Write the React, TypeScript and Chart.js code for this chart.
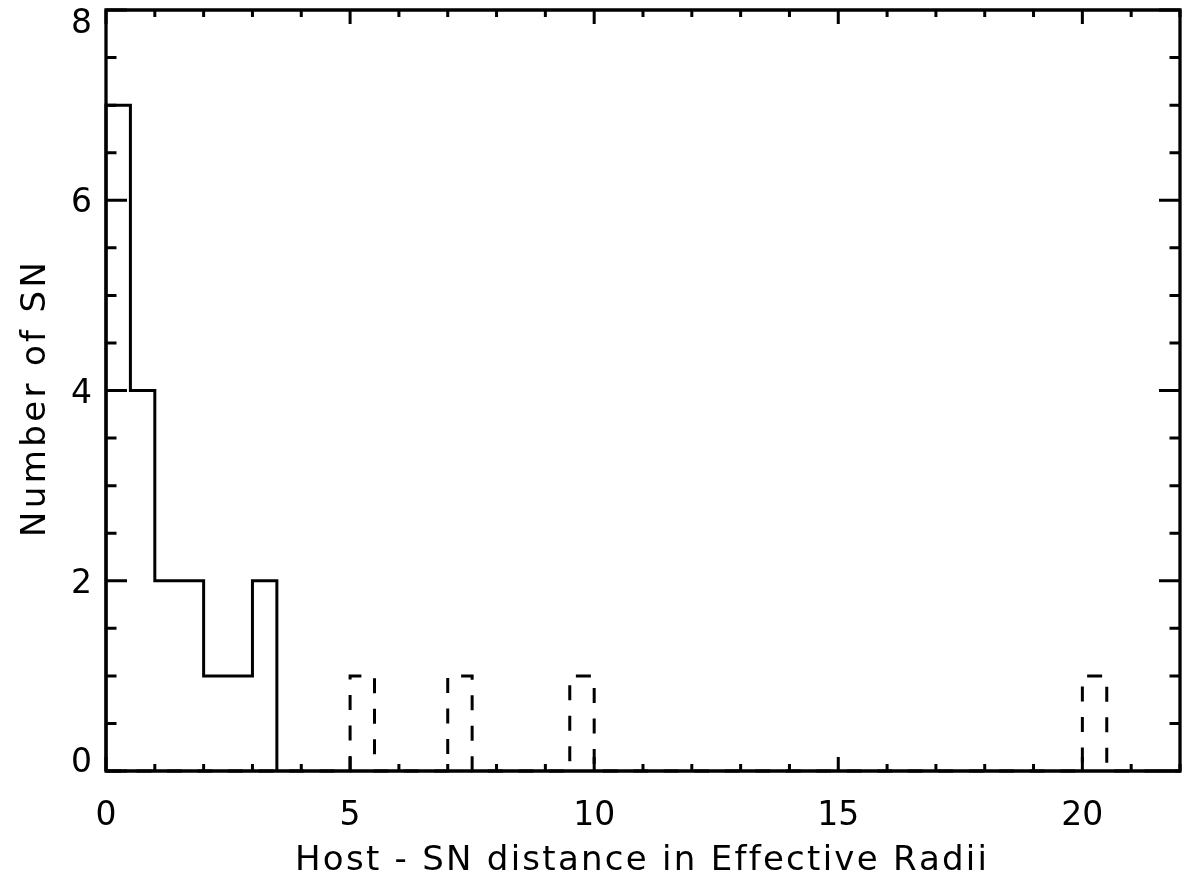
import React, { useEffect, useRef } from "react";
import { Chart, registerables } from "chart.js";

Chart.register(...registerables);

// Solid histogram (bin width 0.5)
const solidBinLeft = [0, 0.5, 1, 1.5, 2, 2.5, 3];
const solidCounts = [7, 4, 2, 2, 1, 1, 2];
// Dashed histogram (nonzero bins only, width 0.5; zero elsewhere)
const dashedBinLeft = [5, 7, 9.5, 20];
const dashedCounts = [1, 1, 1, 1];
const binWidth = 0.5;

const xTickLabels = [0, 5, 10, 15, 20];
const yTickLabels = [0, 2, 4, 6, 8];
const xTitle = "Host - SN distance in Effective Radii";
const yTitle = "Number of SN";

const X_MIN = 0;
const X_MAX = 22;
const Y_MIN = 0;
const Y_MAX = 8;

const FONT = "DejaVu Sans";

function solidPoints() {
  const pts: { x: number; y: number }[] = [];
  pts.push({ x: solidBinLeft[0], y: 0 });
  solidBinLeft.forEach((l, i) => {
    pts.push({ x: l, y: solidCounts[i] });
    pts.push({ x: l + binWidth, y: solidCounts[i] });
  });
  pts.push({ x: solidBinLeft[solidBinLeft.length - 1] + binWidth, y: 0 });
  return pts;
}

function dashedPoints() {
  const pts: { x: number; y: number }[] = [];
  pts.push({ x: X_MIN, y: 0 });
  dashedBinLeft.forEach((l, i) => {
    pts.push({ x: l, y: 0 });
    pts.push({ x: l, y: dashedCounts[i] });
    pts.push({ x: l + binWidth, y: dashedCounts[i] });
    pts.push({ x: l + binWidth, y: 0 });
  });
  pts.push({ x: X_MAX, y: 0 });
  return pts;
}

// draw text char by char with spacing so that it spans targetWidth, centred at cx
function drawSpaced(ctx: CanvasRenderingContext2D, text: string, cx: number, baseline: number, targetWidth: number) {
  const widths = Array.from(text).map((c) => ctx.measureText(c).width);
  const raw = widths.reduce((a, b) => a + b, 0);
  const n = widths.length;
  const sp = n > 1 ? (targetWidth - raw) / (n - 1) : 0;
  let x = cx - targetWidth / 2;
  ctx.textAlign = "left";
  ctx.textBaseline = "alphabetic";
  Array.from(text).forEach((c, i) => {
    ctx.fillText(c, x, baseline);
    x += widths[i] + sp;
  });
}

const framePlugin = {
  id: "idlFrame",
  afterDatasetsDraw(chart: any) {
    const { ctx, chartArea: a, scales } = chart;
    const xs = scales.x;
    const ys = scales.y;
    ctx.save();
    ctx.strokeStyle = "#000";
    ctx.fillStyle = "#000";
    ctx.lineWidth = 3.3;
    ctx.lineCap = "square";
    ctx.setLineDash([]);
    ctx.beginPath();
    ctx.rect(a.left, a.top, a.right - a.left, a.bottom - a.top);
    ctx.stroke();
    ctx.lineCap = "butt";
    ctx.lineWidth = 3;
    const xMajor = 14;
    const yMajor = 21;
    ctx.beginPath();
    for (let v = X_MIN; v <= X_MAX; v += 1) {
      const px = xs.getPixelForValue(v);
      const len = v % 5 === 0 ? xMajor : xMajor / 2;
      ctx.moveTo(px, a.bottom);
      ctx.lineTo(px, a.bottom - len);
      ctx.moveTo(px, a.top);
      ctx.lineTo(px, a.top + len);
    }
    for (let v = Y_MIN; v <= Y_MAX; v += 0.5) {
      const py = ys.getPixelForValue(v);
      const len = v % 2 === 0 ? yMajor : yMajor / 2;
      ctx.moveTo(a.left, py);
      ctx.lineTo(a.left + len, py);
      ctx.moveTo(a.right, py);
      ctx.lineTo(a.right - len, py);
    }
    ctx.stroke();

    // tick labels
    const digitH = 24;
    ctx.font = `33px "${FONT}"`;
    ctx.textAlign = "center";
    ctx.textBaseline = "alphabetic";
    xTickLabels.forEach((v) => {
      ctx.fillText(String(v), xs.getPixelForValue(v), a.bottom + 54);
    });
    ctx.textAlign = "right";
    yTickLabels.forEach((v) => {
      const py = ys.getPixelForValue(v);
      let base = py + digitH / 2;
      base = Math.max(base, a.top - 1 + digitH);
      base = Math.min(base, a.bottom + 1);
      ctx.fillText(String(v), a.left - 14, base);
    });

    // axis titles
    ctx.font = `34px "${FONT}"`;
    const cx = (a.left + a.right) / 2;
    drawSpaced(ctx, xTitle, cx - 2, a.bottom + 99, 692);
    ctx.save();
    ctx.translate(45, (a.top + a.bottom) / 2 + 9);
    ctx.rotate(-Math.PI / 2);
    drawSpaced(ctx, yTitle, 0, 0, 275);
    ctx.restore();

    ctx.restore();
  },
};

export default function App() {
  const ref = useRef<HTMLCanvasElement>(null);
  useEffect(() => {
    document.body.style.margin = "0";
    const chart = new Chart(ref.current as HTMLCanvasElement, {
      type: "scatter",
      data: {
        datasets: [
          {
            data: solidPoints() as any,
            showLine: true,
            borderColor: "#000",
            borderWidth: 3,
            pointRadius: 0,
            fill: false,
            clip: false as any,
          },
          {
            data: dashedPoints() as any,
            showLine: true,
            borderColor: "#000",
            borderWidth: 3,
            borderDash: [15, 15.5],
            pointRadius: 0,
            fill: false,
            clip: false as any,
          },
        ],
      },
      options: {
        animation: false,
        responsive: false,
        maintainAspectRatio: false,
        layout: { padding: { top: 10, right: 7, left: 0, bottom: 0 } },
        plugins: {
          legend: { display: false },
          tooltip: { enabled: false },
        },
        scales: {
          x: {
            type: "linear",
            min: X_MIN,
            max: X_MAX,
            grid: { display: false, drawTicks: false },
            border: { display: false },
            ticks: { display: false },
            afterFit: (s: any) => {
              s.height = 109;
              s.paddingLeft = 0;
              s.paddingRight = 0;
              s.paddingTop = 0;
              s.paddingBottom = 0;
            },
          },
          y: {
            type: "linear",
            min: Y_MIN,
            max: Y_MAX,
            grid: { display: false, drawTicks: false },
            border: { display: false },
            ticks: { display: false },
            afterFit: (s: any) => {
              s.width = 106;
              s.paddingLeft = 0;
              s.paddingRight = 0;
              s.paddingTop = 0;
              s.paddingBottom = 0;
            },
          },
        },
      },
      plugins: [framePlugin],
    });
    return () => chart.destroy();
  }, []);
  return (
    <div style={{ position: "absolute", left: 0, top: 0, width: 1187, height: 880, background: "#fff" }}>
      <canvas ref={ref} width={1187} height={880} />
    </div>
  );
}
